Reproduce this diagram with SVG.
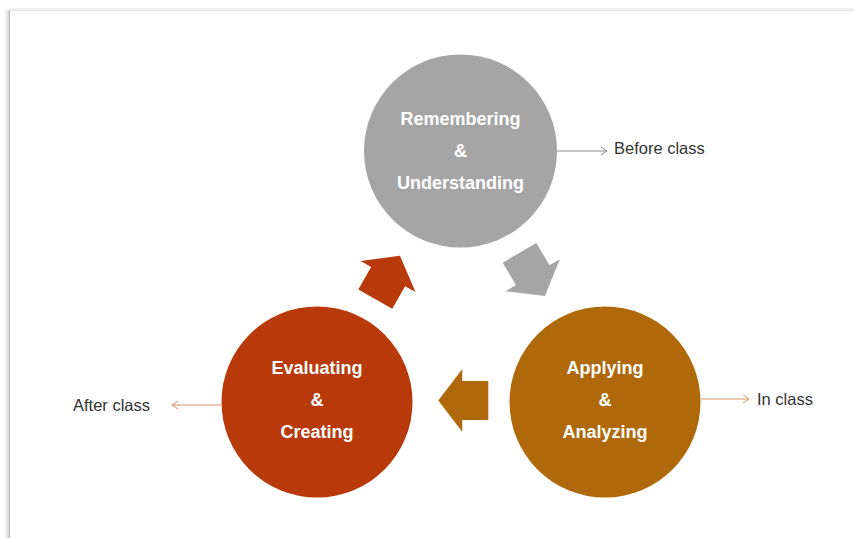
<svg xmlns="http://www.w3.org/2000/svg" width="854" height="538" viewBox="0 0 854 538">
  <style>
    .node-label { font-family: "Liberation Sans", Arial, sans-serif; font-size: 18px; font-weight: bold; fill: #ffffff; text-anchor: middle; }
    .side-label { font-family: "Liberation Sans", Arial, sans-serif; font-size: 16.5px; fill: #333333; }
    .link { fill: none; stroke-width: 1; }
  </style>
  <defs>
    <!-- block arrow pointing along +x, tail at origin -->
    <path id="block-arrow" d="M0,-19.5 L26,-19.5 L26,-31.5 L50,0 L26,31.5 L26,19.5 L0,19.5 Z"/>
    <linearGradient id="edge-shadow" x1="0" y1="0" x2="1" y2="0">
      <stop offset="0" stop-color="#ffffff"/>
      <stop offset="1" stop-color="#cfcfcf"/>
    </linearGradient>
    <marker id="tip-gray" markerWidth="10" markerHeight="10" refX="8" refY="5" orient="auto" markerUnits="userSpaceOnUse">
      <path d="M2,1 L8,5 L2,9" fill="none" stroke="#8c8c8c" stroke-width="1"/>
    </marker>
    <marker id="tip-orange" markerWidth="10" markerHeight="10" refX="8" refY="5" orient="auto" markerUnits="userSpaceOnUse">
      <path d="M2,1 L8,5 L2,9" fill="none" stroke="#d49a5c" stroke-width="1"/>
    </marker>
    <marker id="tip-red" markerWidth="10" markerHeight="10" refX="8" refY="5" orient="auto" markerUnits="userSpaceOnUse">
      <path d="M2,1 L8,5 L2,9" fill="none" stroke="#e08a6c" stroke-width="1"/>
    </marker>
  </defs>

  <!-- page background and frame edges -->
  <rect x="0" y="0" width="854" height="538" fill="#ffffff"/>
  <rect x="4" y="10" width="6" height="528" fill="url(#edge-shadow)"/>
  <line x1="9.5" y1="10" x2="9.5" y2="538" stroke="#b5b5b5" stroke-width="1"/>
  <rect x="9" y="8" width="845" height="2" fill="#f0f0f0"/>
  <line x1="9" y1="10.5" x2="854" y2="10.5" stroke="#e2e2e2" stroke-width="1"/>

  <!-- connectors -->
  <g id="connectors">
    <line class="link" x1="557" y1="151" x2="607" y2="151" stroke="#8c8c8c" marker-end="url(#tip-gray)"/>
    <line class="link" x1="701" y1="399" x2="749" y2="399" stroke="#d49a5c" marker-end="url(#tip-orange)"/>
    <line class="link" x1="221" y1="405" x2="172" y2="405" stroke="#e08a6c" marker-end="url(#tip-red)"/>
    <use href="#block-arrow" fill="#a5a5a5" transform="translate(519.5,252.8) rotate(59.5)"/>
    <use href="#block-arrow" fill="#b0690a" transform="translate(488.3,400.5) rotate(180)"/>
    <use href="#block-arrow" fill="#b8390a" transform="translate(375.3,299.2) rotate(-60.5)"/>
  </g>

  <g id="remembering">
    <circle cx="460.5" cy="151" r="96.5" fill="#a5a5a5"/>
    <text class="node-label" x="460.5" y="125">Remembering</text>
    <text class="node-label" x="460.5" y="157">&amp;</text>
    <text class="node-label" x="460.5" y="189">Understanding</text>
  </g>

  <g id="applying">
    <circle cx="605" cy="402" r="95.5" fill="#b0690a"/>
    <text class="node-label" x="605" y="374">Applying</text>
    <text class="node-label" x="605" y="406">&amp;</text>
    <text class="node-label" x="605" y="438">Analyzing</text>
  </g>

  <g id="evaluating">
    <circle cx="317" cy="402" r="95.5" fill="#b8390a"/>
    <text class="node-label" x="317" y="374">Evaluating</text>
    <text class="node-label" x="317" y="406">&amp;</text>
    <text class="node-label" x="317" y="438">Creating</text>
  </g>

  <g id="before-class">
    <text class="side-label" x="614" y="154">Before class</text>
  </g>
  <g id="in-class">
    <text class="side-label" x="757" y="405">In class</text>
  </g>
  <g id="after-class">
    <text class="side-label" x="73" y="411">After class</text>
  </g>
</svg>
